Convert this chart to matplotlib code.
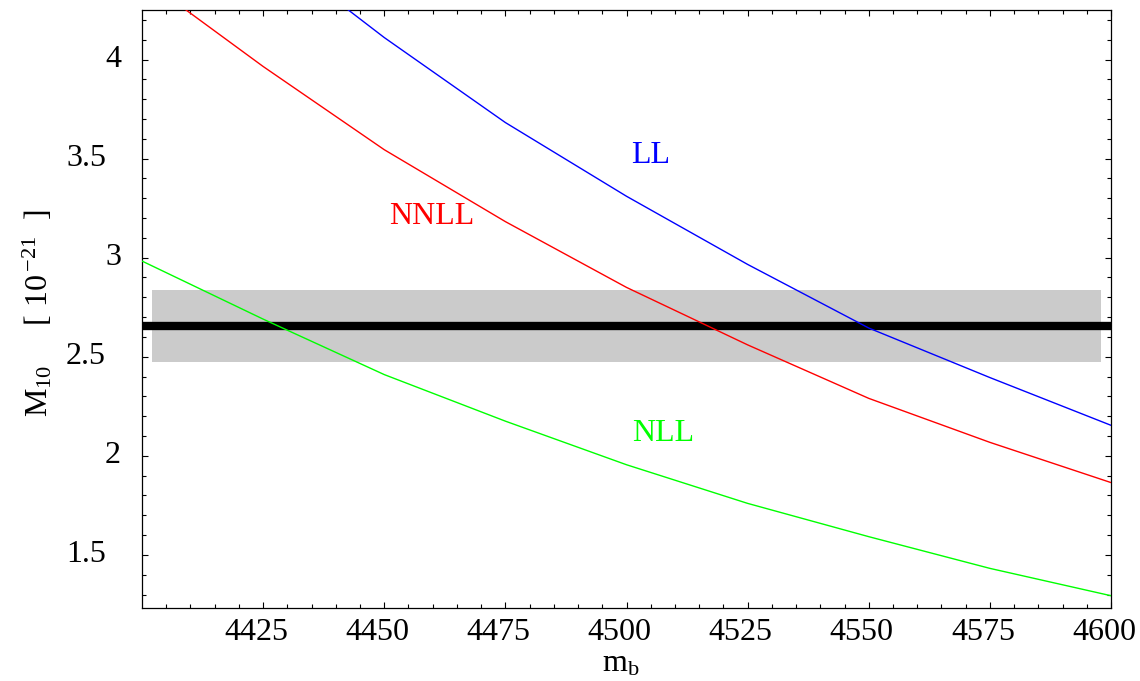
import matplotlib
matplotlib.use('Agg')
import matplotlib.pyplot as plt

plt.rcParams['font.family'] = ['Liberation Serif', 'DejaVu Serif']
plt.rcParams['mathtext.fontset'] = 'custom'
plt.rcParams['mathtext.rm'] = 'Liberation Serif'
plt.rcParams['mathtext.it'] = 'Liberation Serif:italic'

# m_b values (kinks of the curves)
mb = [4400, 4425, 4450, 4475, 4500, 4525, 4550, 4575, 4600]
mb_ll = [4425, 4450, 4475, 4500, 4525, 4550, 4575, 4600]

ll = [4.58, 4.111, 3.682, 3.31, 2.966, 2.645, 2.395, 2.154]
nll = [2.983, 2.69, 2.41, 2.175, 1.955, 1.76, 1.592, 1.432, 1.294]
nnll = [4.413, 3.965, 3.545, 3.182, 2.85, 2.56, 2.29, 2.068, 1.865]

# experimental value and error band
exp_central = 2.655
exp_low = 2.474
exp_high = 2.836
band_x = [4402, 4598]

xticks = [4425, 4450, 4475, 4500, 4525, 4550, 4575, 4600]
yticks = [1.5, 2, 2.5, 3, 3.5, 4]

fig = plt.figure(figsize=(11.4, 6.81), dpi=100)
ax = fig.add_axes([142/1140, 1-608/681, (1111-142)/1140, (608-10)/681])

ax.fill_between(band_x, exp_low, exp_high, color='#cbcbcb', linewidth=0, zorder=1)
ax.axhline(exp_central, color='black', linewidth=6, zorder=2)

ax.plot(mb_ll, ll, color='#0000ff', linewidth=1.0, zorder=3)
ax.plot(mb, nnll, color='#ff0000', linewidth=1.0, zorder=3)
ax.plot(mb, nll, color='#00ff00', linewidth=1.0, zorder=3)

ax.text(4505, 3.516, 'LL', color='#0000ff', fontsize=23, ha='center', va='center')
ax.text(4459.8, 3.208, 'NNLL', color='#ff0000', fontsize=23, ha='center', va='center')
ax.text(4507.5, 2.113, 'NLL', color='#00ff00', fontsize=23, ha='center', va='center')

ax.set_xlim(4400, 4600)
ax.set_ylim(1.232, 4.25)

ax.set_xticks(xticks)
ax.set_xticks([x for x in range(4405, 4600, 5) if x not in xticks], minor=True)
ax.set_yticks(yticks)
ax.set_yticks([i/10 for i in range(13, 43) if i % 5 != 0], minor=True)
ax.set_xticklabels([])
ax.set_yticklabels([])
ax.tick_params(which='both', direction='in', top=True, right=True, width=0.8, color='black')
ax.tick_params(which='major', length=4.3)
ax.tick_params(which='minor', length=2.9)
for s in ax.spines.values():
	s.set_linewidth(0.9)

# Mathematica style tick labels (slightly offset from the ticks)
for x in xticks:
	ax.annotate(str(x), xy=(x, 0), xycoords=('data', 'axes fraction'),
	            xytext=(-7, -24), textcoords='offset pixels',
	            ha='center', va='center', fontsize=23)
for y in yticks:
	if y == int(y):
		lab, off = str(int(y)), -21
	else:
		lab, off = str(y), -36
	ax.annotate(lab, xy=(0, y), xycoords=('axes fraction', 'data'),
	            xytext=(off, 0), textcoords='offset pixels',
	            ha='right', va='center', fontsize=23)

fig.text(621/1140, 1-664/681, r'm$_\mathrm{b}$', fontsize=23, ha='center', va='center')
fig.text(38/1140, 1-313/681, r'M$_\mathrm{10}$     [ 10$^{\,\mathrm{-21}}$  ]',
         fontsize=23, rotation=90, ha='center', va='center')

fig.savefig('out.png', dpi=100)
